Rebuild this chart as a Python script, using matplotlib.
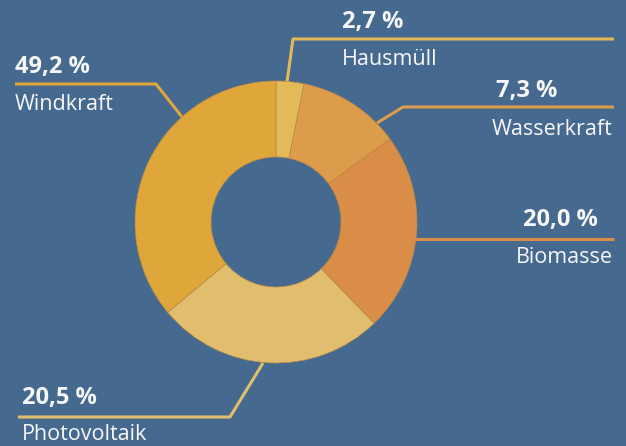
import matplotlib.pyplot as plt

# Data (label values as printed, slice shares as drawn in the picture)
categories = ["Hausmüll", "Wasserkraft", "Biomasse", "Photovoltaik", "Windkraft"]
label_values = [2.7, 7.3, 20.0, 20.5, 49.2]
slice_shares = [3.2, 11.8, 22.8, 26.2, 36.1]
colors = ["#E2BA57", "#DD9C4C", "#DA8D46", "#E1BE6E", "#DFA63A"]

bg = "#466990"
txt_color = "#F7F7F7"

fig = plt.figure(figsize=(6.26, 4.46), dpi=100, facecolor=bg)
ax = fig.add_axes([0, 0, 1, 1])
ax.set_facecolor(bg)
ax.set_xlim(0, 626)
ax.set_ylim(0, 446)
ax.set_aspect("equal")
ax.axis("off")

# Donut
ax.pie(slice_shares, colors=colors, startangle=90, counterclock=False,
       center=(276, 224), radius=141, frame=True,
       wedgeprops=dict(width=76, edgecolor="#b98a45", linewidth=0.5))
ax.set_xlim(0, 626)
ax.set_ylim(0, 446)
ax.axis("off")

# Leader lines, text anchors
layout = {
    "Windkraft":    dict(line=[(15, 362), (156, 362), (182, 329)], x=15, ha="left", y_num=373, y_lab=336),
    "Hausmüll":     dict(line=[(614, 407), (293, 407), (287, 364)], x=342, ha="left", y_num=418, y_lab=381),
    "Wasserkraft":  dict(line=[(614, 339), (403, 339), (377, 323)], x=(557, 612), ha="right", y_num=349, y_lab=311),
    "Biomasse":     dict(line=[(614, 207), (415, 207)], x=(598, 613), ha="right", y_num=220, y_lab=183),
    "Photovoltaik": dict(line=[(18, 29), (230, 29), (263, 83)], x=22, ha="left", y_num=42, y_lab=6),
}

font = "Open Sans"
for cat, val, col in zip(categories, label_values, colors):
    lay = layout[cat]
    xs = [p[0] for p in lay["line"]]
    ys = [p[1] for p in lay["line"]]
    ax.plot(xs, ys, color=col, lw=2.2, zorder=0, solid_capstyle="butt")
    if isinstance(lay["x"], tuple):
        x_num, x_lab = lay["x"]
    else:
        x_num = x_lab = lay["x"]
    num = f"{val:.1f}".replace(".", ",") + " %"
    ax.text(x_num, lay["y_num"], num, ha=lay["ha"], va="baseline", color=txt_color,
            fontsize=17, fontweight="bold", family=font)
    ax.text(x_lab, lay["y_lab"], cat, ha=lay["ha"], va="baseline", color=txt_color,
            fontsize=15.5, family=font)

fig.savefig("out.png", dpi=100, facecolor=bg)
